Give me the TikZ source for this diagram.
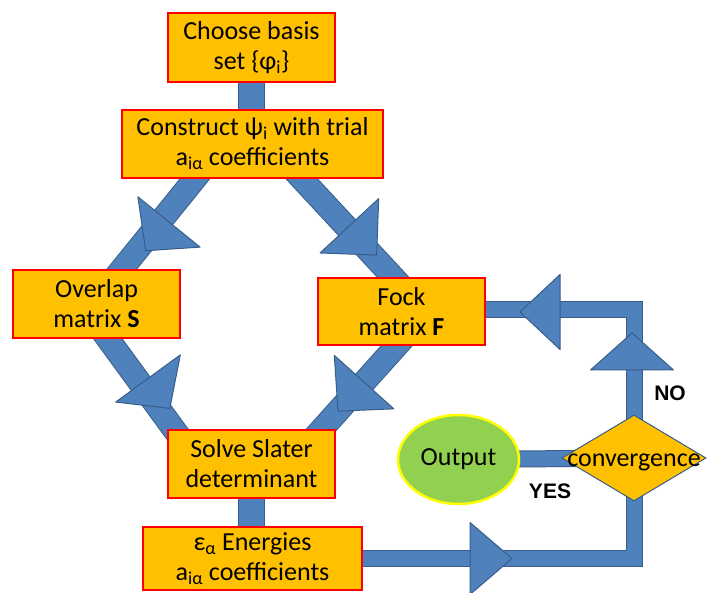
\documentclass[tikz,border=0pt]{standalone}
\usepackage{fontspec}
\setmainfont{Carlito}
\newfontfamily\labelfont{Liberation Sans}
\usetikzlibrary{shapes.geometric,calc,decorations.markings,backgrounds}
\definecolor{boxfill}{HTML}{FFC000}
\definecolor{boxline}{HTML}{FF0000}
\definecolor{bandfill}{HTML}{4F81BD}
\definecolor{bandline}{HTML}{385D8A}
\definecolor{ovalfill}{HTML}{92D050}
\definecolor{ovalline}{HTML}{FFFF00}
\tikzset{
  boxstyle/.style={rectangle, draw=boxline, fill=boxfill, line width=2.5pt, align=center,
    font=\fontsize{26}{30}\selectfont, inner sep=0pt},
  ovalstyle/.style={ellipse, draw=ovalline, fill=ovalfill, line width=2.5pt,
    minimum width=121pt, minimum height=89pt, inner sep=0pt, font=\fontsize{26}{30}\selectfont},
  decision/.style={diamond, draw=bandline, fill=boxfill, line width=1pt,
    minimum width=144pt, minimum height=86pt, inner sep=0pt, font=\fontsize{26}{30}\selectfont},
  lbl/.style={font=\labelfont\fontsize{21}{25}\selectfont\bfseries},
  bandstyle/.style args={#1/#2}{draw=bandfill, line width=#1pt, line join=miter,
    preaction={draw=bandline, line width=#2pt, line join=miter}},
  headstyle/.style={fill=bandfill, draw=bandline, line width=1pt, line join=round},
  tipmark/.style args={#1/#2/#3/#4}{postaction={decorate, decoration={markings,
    mark=at position #1pt with {\filldraw[headstyle] (0pt,#3pt) -- (-#2pt,#3pt+#4pt) -- (-#2pt,#3pt-#4pt) -- cycle;}}}}
}
\begin{document}
\begin{tikzpicture}[x=1pt,y=-1pt]
\useasboundingbox (0,0) rectangle (707,593);
\node[boxstyle, minimum width=167pt, minimum height=69pt] (b1) at (251.5,47.5) {Choose basis\\set \{φ\textsubscript{i}\}};
\node[boxstyle, minimum width=261pt, minimum height=68pt] (b2) at (252.5,144) {Construct ψ\textsubscript{i} with trial\\a\textsubscript{iα} coefficients};
\node[boxstyle, minimum width=167pt, minimum height=68pt] (b3) at (96.5,304) {Overlap\\matrix \textbf{S}};
\node[boxstyle, minimum width=167pt, minimum height=67pt] (b4) at (401.5,311.5) {Fock\\matrix \textbf{F}};
\node[boxstyle, minimum width=167pt, minimum height=68pt] (b5) at (251.5,464) {Solve Slater\\determinant};
\node[boxstyle, minimum width=219pt, minimum height=63pt] (b6) at (252.5,558.5) {ε\textsubscript{α} Energies\\a\textsubscript{iα} coefficients};
\node[ovalstyle] (out) at (458.5,459.5) {Output};
\node[decision] (conv) at (634,458) {\smash{\makebox[0pt]{\raisebox{-8pt}{convergence}}}};
\node[lbl] (no) at (670,393) {NO};
\node[lbl] (yes) at (550,491) {YES};
\coordinate (c1) at (634,310);
\coordinate (c2) at (634,558.5);
\begin{scope}[on background layer]
  \draw[bandstyle=25/27] (b1.center) -- (b1.center |- b2.center);
  \draw[bandstyle=25/27] (b5.center) -- (b5.center |- b6.center);
  \draw[bandstyle=22/24, tipmark=103/37/7/40] ($(b2.south west)+(84.3,-13)$) -- ($(b3.north west)+(100.7,12)$);
  \draw[bandstyle=22/24, tipmark=107/37/9/40] ($(b3.south west)+(87.7,-12)$) -- ($(b5.north west)+(16.3,13)$);
  \draw[bandstyle=22/24, tipmark=124/40/3/40] ($(b2.south west)+(169.3,-13)$) -- ($(b4.north west)+(88,13)$);
  \draw[bandstyle=22/24, tipmark=102/39/0/40] ($(b4.south west)+(89.4,-11)$) -- ($(b5.north west)+(143.8,13)$);
  \draw[bandstyle=15/17, tipmark=259.5/42/0/36] (b6.center) -- (c2) -- (conv.center);
  \draw[bandstyle=15/17, tipmark=125/37/2/41.5, tipmark=262/40/2/37.5] (conv.center) -- (c1) -- (c1 -| b4.center);
  \draw[bandstyle=15/17] (out.center) -- (conv.center);
\end{scope}
\end{tikzpicture}
\end{document}
